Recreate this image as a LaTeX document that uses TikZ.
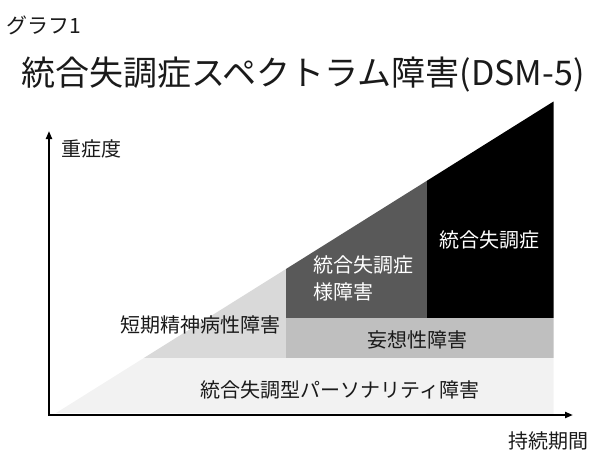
\documentclass[tikz,border=0pt]{standalone}
\usepackage{fontspec}
\newfontfamily\jpfont{Noto Sans CJK JP}
\usepackage{tikz}
\usetikzlibrary{arrows.meta}
\definecolor{bandA}{HTML}{F2F2F2}
\definecolor{bandB}{HTML}{D9D9D9}
\definecolor{bandC}{HTML}{BFBFBF}
\definecolor{bandD}{HTML}{595959}
\definecolor{inktext}{HTML}{1A1A1A}
\tikzset{
  lbl/.style={font=\jpfont\fontsize{20}{27}\selectfont, text=inktext, inner sep=0pt},
  wlbl/.style={lbl, text=white},
  axis/.style={line width=2pt, -{Triangle[length=8pt,width=6pt]}}
}
\begin{document}
\begin{tikzpicture}[x=1pt, y=-1pt]
\useasboundingbox (0,0) rectangle (600,450);
%coordinates
\coordinate (A) at (56,413);
\coordinate (T) at (553.5,101.5);
\coordinate (R) at (553.5,414);

%bands
\begin{scope}
\clip (A) -- (T) -- (R) -- cycle;
\fill[bandA] (0,358) rectangle (600,420);
\fill[bandB] (0,0) rectangle (285.5,358);
\fill[bandC] (285.5,318) rectangle (600,358);
\fill[bandD] (285.5,0) rectangle (426.7,318);
\fill[black] (426.7,0) rectangle (600,318);
\end{scope}

%axes
\coordinate (O) at (49,415);
\coordinate (Ytop) at (49,131);
\coordinate (Xend) at (573,415);
\draw[axis] (O) -- (Ytop);
\draw[axis] ([xshift=-1pt]O) -- (Xend);

%nodes
\node[lbl, font=\jpfont\fontsize{21}{24}\selectfont] (G) at (44,25) {グラフ1};
\node[lbl, font=\jpfont\fontsize{34}{40}\selectfont] (Ttl) at (303,75) {統合失調症スペクトラム障害(DSM-5)};
\node[lbl, anchor=west] (Y) at (61,149) {重症度};
\node[lbl] (X) at (548,441) {持続期間};
\node[wlbl] (S) at (489,240) {統合失調症};
\node[wlbl, anchor=west, align=left] (SL) at (313,278.5) {統合失調症\\様障害};
\node[lbl] (Bri) at (200,325) {短期精神病性障害};
\node[lbl] (Del) at (417,340) {妄想性障害};
\node[lbl] (Typ) at (340,390) {統合失調型パーソナリティ障害};
\end{tikzpicture}
\end{document}
